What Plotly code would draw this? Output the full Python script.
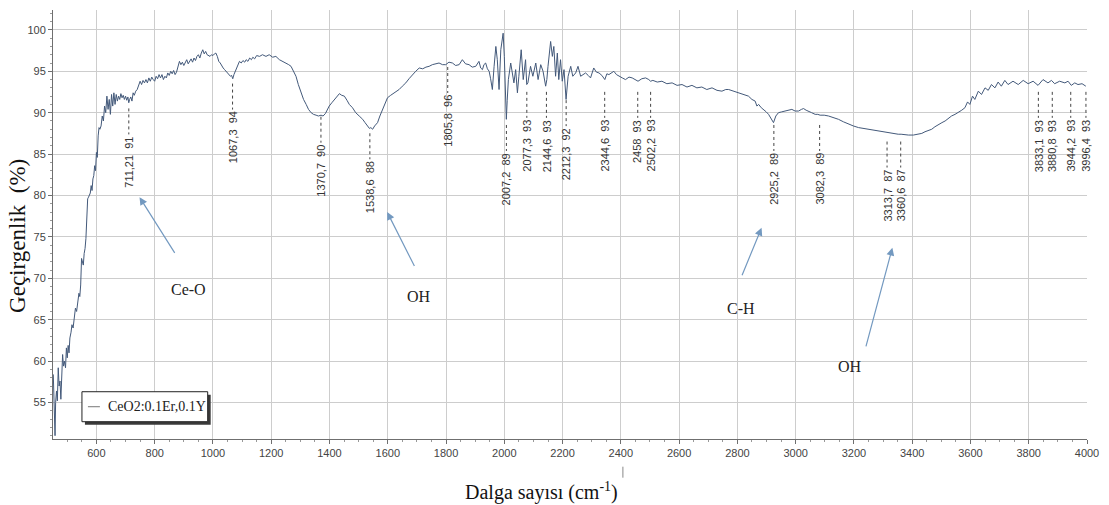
import plotly.graph_objects as go

# ---------------- data ----------------
wavenumber = [
    452, 455, 458, 460, 463, 466, 469, 472, 475, 478, 481, 484, 487, 490, 494, 497, 500, 503, 506, 509,
    513, 516, 520, 524, 528, 532, 536, 540, 543, 546, 549, 552, 555, 558, 561, 564, 567, 570, 573, 576,
    579, 582, 585, 588, 591, 594, 597, 600, 603, 606, 609, 612, 616, 620, 624, 628, 632, 636, 640, 644,
    648, 652, 656, 660, 664, 668, 672, 676, 680, 684, 688, 692, 696, 700, 704, 708, 711, 714, 718, 722,
    726, 730, 735, 740, 745, 750, 755, 760, 765, 770, 775, 780, 785, 790, 795, 800, 805, 810, 815, 820,
    825, 830, 835, 840, 845, 850, 855, 860, 865, 870, 875, 880, 885, 890, 895, 900, 905, 910, 915, 920,
    925, 930, 935, 940, 945, 950, 955, 960, 965, 970, 975, 980, 985, 990, 995, 1000, 1005, 1010, 1015, 1020,
    1025, 1030, 1035, 1040, 1045, 1050, 1055, 1060, 1064, 1068, 1072, 1076, 1080, 1085, 1091, 1097, 1103, 1109, 1114, 1120,
    1126, 1132, 1137, 1143, 1150, 1160, 1170, 1182, 1193, 1205, 1216, 1228, 1240, 1251, 1260, 1268, 1276, 1285, 1293, 1302,
    1311, 1320, 1328, 1337, 1345, 1354, 1362, 1371, 1378, 1386, 1392, 1399, 1408, 1417, 1425, 1434, 1442, 1451, 1460, 1468,
    1479, 1490, 1502, 1514, 1522, 1531, 1537, 1542, 1548, 1555, 1565, 1573, 1582, 1590, 1599, 1610, 1622, 1630, 1639, 1650,
    1662, 1673, 1685, 1696, 1708, 1720, 1731, 1742, 1753, 1765, 1776, 1788, 1799, 1810, 1822, 1833, 1845, 1856, 1867, 1879,
    1890, 1902, 1908, 1913, 1919, 1925, 1930, 1936, 1942, 1948, 1953, 1959, 1965, 1971, 1976, 1982, 1988, 1996, 2000, 2004,
    2007, 2010, 2014, 2022, 2027, 2033, 2039, 2045, 2050, 2058, 2065, 2073, 2077, 2081, 2090, 2098, 2108, 2116, 2125, 2133,
    2142, 2146, 2150, 2159, 2165, 2170, 2176, 2182, 2187, 2193, 2199, 2205, 2212, 2219, 2228, 2235, 2245, 2253, 2262, 2270,
    2279, 2288, 2296, 2307, 2316, 2325, 2335, 2345, 2352, 2359, 2368, 2376, 2385, 2393, 2405, 2416, 2428, 2439, 2449, 2459,
    2472, 2485, 2496, 2502, 2510, 2525, 2541, 2558, 2576, 2593, 2610, 2627, 2644, 2661, 2678, 2695, 2713, 2730, 2747, 2760,
    2770, 2787, 2804, 2821, 2838, 2850, 2861, 2867, 2873, 2882, 2890, 2899, 2907, 2915, 2924, 2932, 2941, 2952, 2964, 2975,
    2987, 2998, 3010, 3020, 3027, 3036, 3044, 3055, 3067, 3076, 3084, 3098, 3113, 3130, 3147, 3164, 3181, 3198, 3216, 3233,
    3250, 3267, 3284, 3298, 3312, 3326, 3341, 3352, 3362, 3375, 3387, 3404, 3421, 3433, 3444, 3455, 3467, 3478, 3490, 3502,
    3513, 3524, 3535, 3547, 3558, 3570, 3581, 3590, 3598, 3607, 3615, 3627, 3638, 3650, 3661, 3672, 3684, 3695, 3706, 3718,
    3729, 3746, 3764, 3781, 3798, 3815, 3832, 3849, 3866, 3878, 3889, 3906, 3924, 3935, 3946, 3958, 3969, 3983, 3996,
]

transmittance = [
    58.4, 53.5, 51.0, 55.0, 56.4, 55.2, 59.2, 57.0, 57.6, 55.4, 58.5, 60.8, 59.4, 60.0, 59.2, 61.6, 60.4, 61.9, 61.0, 62.8,
    63.5, 64.4, 64.0, 65.5, 66.4, 66.0, 67.5, 68.2, 67.8, 69.2, 72.4, 72.0, 71.6, 73.0, 73.6, 74.8, 77.5, 79.6, 79.8, 80.0,
    80.3, 81.2, 80.6, 82.0, 82.4, 83.6, 83.0, 85.2, 84.6, 87.2, 88.2, 88.0, 88.4, 89.6, 89.0, 90.8, 90.0, 92.0, 90.4, 91.6,
    89.8, 92.2, 90.8, 92.4, 91.0, 92.2, 91.4, 92.0, 91.6, 92.3, 91.8, 92.1, 91.6, 92.0, 91.5, 91.9, 91.2, 91.6, 91.9, 91.4,
    92.4, 92.1, 92.6, 92.8, 93.3, 93.8, 93.4, 93.9, 93.6, 94.0, 93.6, 94.2, 93.8, 94.3, 94.0, 93.8, 94.4, 94.1, 94.6, 94.2,
    94.6, 94.0, 94.4, 94.2, 94.8, 94.5, 95.0, 94.7, 95.1, 94.6, 94.9, 95.6, 96.2, 95.8, 96.1, 95.7, 96.0, 96.4, 95.9, 96.2,
    96.5, 96.1, 96.6, 96.3, 96.8, 97.0, 96.6, 97.2, 97.6, 97.1, 97.4, 97.0, 96.9, 96.8, 97.0, 96.9, 97.1, 97.2, 96.8, 96.2,
    96.0, 95.6, 95.4, 95.2, 95.0, 94.8, 94.6, 94.4, 94.5, 94.1, 94.6, 94.9, 95.2, 95.7, 96.2, 96.0, 96.3, 96.1, 96.4, 96.2,
    96.6, 96.4, 96.7, 96.5, 96.9, 96.8, 97.0, 96.8, 97.0, 96.7, 96.8, 96.4, 96.2, 96.0, 95.8, 95.6, 95.1, 94.4, 93.4, 92.4,
    91.6, 91.0, 90.4, 90.0, 89.8, 89.7, 89.6, 89.7, 89.6, 89.9, 90.4, 90.8, 91.2, 91.6, 92.0, 92.3, 92.1, 92.0, 91.5, 91.0,
    90.6, 90.0, 89.6, 89.2, 88.8, 88.4, 88.1, 88.2, 88.0, 88.4, 88.8, 89.6, 90.4, 91.2, 91.8, 92.1, 92.4, 92.6, 92.8, 93.2,
    93.6, 94.1, 94.6, 95.0, 95.4, 95.3, 95.5, 95.6, 95.8, 95.9, 96.0, 95.8, 95.8, 96.1, 96.0, 95.7, 95.8, 96.4, 95.9, 95.8,
    95.5, 95.6, 95.9, 96.2, 95.4, 95.2, 95.8, 96.0, 95.3, 95.0, 94.1, 92.8, 95.6, 98.0, 96.4, 92.8, 97.6, 99.6, 96.8, 93.0,
    89.2, 91.5, 94.0, 96.0, 94.8, 93.6, 95.2, 92.4, 94.4, 97.6, 94.0, 96.4, 93.4, 93.6, 95.6, 94.4, 96.0, 94.0, 95.8, 95.0,
    93.2, 94.0, 95.6, 98.6, 96.8, 98.0, 94.4, 97.2, 94.0, 96.4, 93.8, 95.2, 91.6, 94.4, 95.6, 94.4, 94.8, 95.6, 94.4, 94.6,
    94.8, 94.5, 94.2, 95.4, 94.9, 94.8, 94.5, 94.0, 94.7, 94.6, 94.8, 95.0, 94.6, 94.4, 94.2, 94.0, 94.3, 94.2, 94.0, 93.8,
    94.1, 94.2, 94.0, 93.8, 93.9, 93.7, 93.8, 93.5, 93.6, 93.3, 93.4, 93.1, 93.3, 93.0, 93.1, 92.8, 93.0, 92.7, 92.6, 92.8,
    92.8, 92.6, 92.4, 92.2, 92.0, 91.6, 91.4, 90.8, 91.0, 90.6, 90.4, 90.1, 89.8, 89.3, 88.8, 89.6, 90.0, 90.1, 90.2, 90.3,
    90.4, 90.2, 90.2, 90.4, 90.5, 90.3, 90.2, 90.0, 89.8, 89.8, 89.7, 89.7, 89.6, 89.4, 89.2, 88.9, 88.6, 88.4, 88.2, 88.1,
    88.0, 87.9, 87.8, 87.7, 87.6, 87.5, 87.4, 87.4, 87.4, 87.3, 87.3, 87.3, 87.4, 87.5, 87.7, 87.8, 88.0, 88.3, 88.6, 88.8,
    89.0, 89.3, 89.6, 89.8, 90.0, 90.3, 90.6, 91.3, 91.0, 92.0, 91.6, 92.6, 92.2, 93.0, 92.7, 93.4, 93.0, 93.7, 93.2, 93.9,
    93.4, 93.8, 93.4, 93.9, 93.5, 93.8, 93.3, 94.0, 93.6, 93.9, 93.5, 93.8, 93.6, 93.8, 93.3, 93.6, 93.4, 93.5, 93.2,
]

peak_wn = [711.21, 1067.3, 1370.7, 1538.6, 1805.8, 2007.2, 2077.3, 2144.6, 2212.3, 2344.6,
           2458, 2502.2, 2925.2, 3082.3, 3313.7, 3360.6, 3833.1, 3880.8, 3944.2, 3996.4]
peak_t = [91, 94, 90, 88, 96, 89, 93, 93, 92, 93, 93, 93, 89, 89, 87, 87, 93, 93, 93, 93]
peak_wn_text = ["711,21", "1067,3", "1370,7", "1538,6", "1805,8", "2007,2", "2077,3", "2144,6",
                "2212,3", "2344,6", "2458", "2502,2", "2925,2", "3082,3", "3313,7", "3360,6",
                "3833,1", "3880,8", "3944,2", "3996,4"]

band_names = ["Ce-O", "OH", "C-H", "OH"]
band_text_x = [917, 1708, 2814, 3188]
band_text_y = [68.6, 67.8, 66.4, 59.3]
band_head_x = [748, 1598, 2883, 3332]
band_head_y = [79.8, 78.0, 76.1, 73.7]
band_tail_x = [872, 1694, 2814, 3240]
band_tail_y = [72.9, 71.3, 70.2, 61.6]

series_name = "CeO2:0.1Er,0.1Y"
x_title = "Dalga sayısı (cm<sup>-1</sup>)"
y_title = "Geçirgenlik\u00a0\u00a0(%)"

# ---------------- figure ----------------
LINE_COLOR = "#43597a"
ARROW_COLOR = "#7399c0"
SERIF = "Liberation Serif, Times New Roman, serif"
SANS = "Liberation Sans, Arial, sans-serif"

# plot-area geometry (pixels) used for paper-coordinate decorations
PL, PR, PT, PB = 53, 1089, 10, 439.3
PW, PH = PR - PL, PB - PT


def px_x(px):
    return (px - PL) / PW


def px_y(py):
    return (PB - py) / PH


fig = go.Figure()
fig.add_trace(go.Scatter(
    x=wavenumber, y=transmittance, mode="lines", name=series_name,
    line=dict(color=LINE_COLOR, width=1), showlegend=False,
))

annotations = []
shapes = []

# peak labels with dotted leader lines
for wn, t, txt in zip(peak_wn, peak_t, peak_wn_text):
    shapes.append(dict(
        type="line", xref="x", yref="y", ysizemode="pixel", yanchor=t,
        x0=wn, x1=wn, y0=-4, y1=-30,
        line=dict(color="#444444", width=1, dash="dot"),
    ))
    annotations.append(dict(
        x=wn, y=t, xref="x", yref="y", text=f"{txt}\u00a0\u00a0{t}",
        textangle=-90, showarrow=False, xanchor="center", yanchor="top",
        yshift=-30, font=dict(family=SANS, size=11, color="#333333"),
    ))

# band assignments with arrows
for name, tx, ty, hx, hy, sx, sy in zip(band_names, band_text_x, band_text_y,
                                        band_head_x, band_head_y, band_tail_x, band_tail_y):
    annotations.append(dict(
        x=hx, y=hy, xref="x", yref="y", ax=sx, ay=sy, axref="x", ayref="y",
        text="", showarrow=True, arrowhead=2, arrowsize=1.3, arrowwidth=1.2,
        arrowcolor=ARROW_COLOR,
    ))
    annotations.append(dict(
        x=tx, y=ty, xref="x", yref="y", text=name, showarrow=False,
        font=dict(family=SERIF, size=16, color="#222222"),
    ))

# axis titles
annotations.append(dict(
    x=px_x(542), y=px_y(492), xref="paper", yref="paper", text=x_title,
    showarrow=False, font=dict(family=SERIF, size=20, color="#111111"),
    xanchor="center", yanchor="middle",
))
annotations.append(dict(
    x=px_x(18), y=px_y(236), xref="paper", yref="paper", text=y_title,
    showarrow=False, textangle=-90, font=dict(family=SERIF, size=23, color="#111111"),
    xanchor="center", yanchor="middle",
))

# legend box (drawn manually to match the small framed legend)
lx0, lx1 = px_x(82), px_x(208)
ly0, ly1 = px_y(422), px_y(392)
ly_mid = px_y(407)
shapes.append(dict(type="rect", xref="paper", yref="paper",
                   x0=px_x(85), x1=px_x(211), y0=px_y(425), y1=px_y(395),
                   fillcolor="#3a3a3a", line=dict(width=0)))
shapes.append(dict(type="rect", xref="paper", yref="paper",
                   x0=lx0, x1=lx1, y0=ly0, y1=ly1,
                   fillcolor="white", line=dict(color="#222222", width=1)))
shapes.append(dict(type="line", xref="paper", yref="paper",
                   x0=px_x(88), x1=px_x(100), y0=ly_mid, y1=ly_mid,
                   line=dict(color="#777777", width=1)))
annotations.append(dict(
    x=px_x(106), y=ly_mid, xref="paper", yref="paper",
    text=series_name, showarrow=False, xanchor="left", yanchor="middle",
    font=dict(family=SERIF, size=14, color="#222222"),
))

# small stray tick under the axis near 2400
shapes.append(dict(type="line", xref="paper", yref="paper",
                   x0=px_x(624), x1=px_x(624), y0=px_y(467), y1=px_y(478),
                   line=dict(color="#888888", width=1)))

fig.update_layout(
    width=1109, height=505,
    margin=dict(l=PL, r=1109 - PR, t=PT, b=505 - PB),
    paper_bgcolor="white", plot_bgcolor="white",
    annotations=annotations, shapes=shapes,
    showlegend=False,
)
fig.update_xaxes(
    range=[451, 4000], tick0=0, dtick=200, showgrid=True, gridcolor="#cdcdcd", gridwidth=1,
    showline=True, linecolor="#6f6f6f", linewidth=1, ticks="outside", ticklen=4,
    tickcolor="#6f6f6f", tickfont=dict(family=SANS, size=11, color="#444444"),
    minor=dict(dtick=50, tick0=0, ticks="outside", ticklen=2, tickcolor="#999999", showgrid=False),
    zeroline=False,
)
fig.update_yaxes(
    range=[50.6, 102.4], tick0=0, dtick=5, showgrid=True, gridcolor="#cdcdcd", gridwidth=1,
    showline=True, linecolor="#6f6f6f", linewidth=1, ticks="outside", ticklen=4,
    tickcolor="#6f6f6f", tickfont=dict(family=SANS, size=11, color="#444444"),
    minor=dict(dtick=1, tick0=0, ticks="outside", ticklen=2, tickcolor="#999999", showgrid=False),
    zeroline=False,
)

fig.write_html("out.html")
